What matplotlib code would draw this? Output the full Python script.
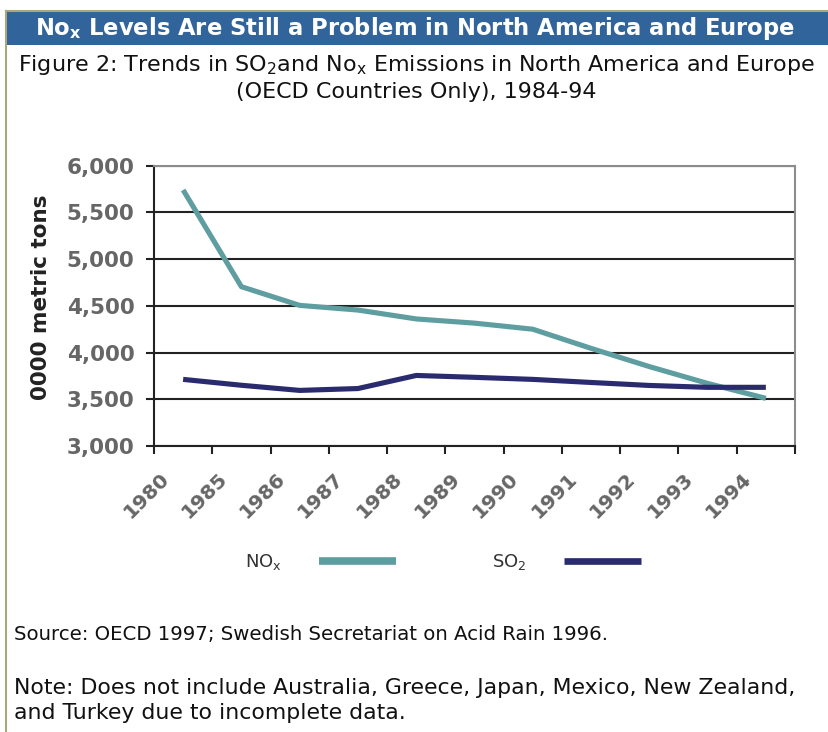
import matplotlib
matplotlib.use('Agg')
import matplotlib.pyplot as plt
import matplotlib.transforms as mtransforms
from matplotlib.lines import Line2D
from matplotlib.patches import Rectangle

plt.rcParams['font.family'] = ['DejaVu Sans']
plt.rcParams['mathtext.default'] = 'regular'

# Data
years = ['1980', '1985', '1986', '1987', '1988', '1989',
         '1990', '1991', '1992', '1993', '1994']
nox = [5740, 4705, 4505, 4455, 4360, 4315, 4250, 4045, 3850, 3670, 3510]
so2 = [3713, 3650, 3595, 3615, 3755, 3735, 3713, 3680, 3648, 3628, 3628]

nox_color = '#5F9EA0'
so2_color = '#2A2A6E'

fig = plt.figure(figsize=(8.29, 7.32), dpi=100)
W, H = 829, 732

# Page frame: blue title bar and thin olive borders
fig.patches.append(Rectangle((7 / W, 1 - 45 / H), 1, 33 / H, transform=fig.transFigure,
                             facecolor='#31649B', edgecolor='none'))
fig.lines.append(Line2D([6 / W, 6 / W], [0, 1 - 11 / H], transform=fig.transFigure,
                        color='#A8A87A', lw=1.5))
fig.lines.append(Line2D([6 / W, 1], [1 - 11 / H, 1 - 11 / H], transform=fig.transFigure,
                        color='#A8A87A', lw=1.5))

# Titles
fig.text(415 / W, 1 - 29 / H, r'No$_x$ Levels Are Still a Problem in North America and Europe',
         color='white', fontsize=16.3, fontweight='bold', ha='center', va='center')
fig.text(416 / W, 1 - 65 / H,
         r'Figure 2: Trends in SO$_2$and No$_x$ Emissions in North America and Europe',
         color='#111111', fontsize=16, ha='center', va='center')
fig.text(416 / W, 1 - 92 / H, '(OECD Countries Only), 1984-94',
         color='#111111', fontsize=16, ha='center', va='center')

# Chart
ax = fig.add_axes([154 / W, 1 - 446 / H, (795 - 154) / W, (446 - 165.7) / H])
x = list(range(len(years)))
ax.plot(x, nox, color=nox_color, lw=3.7, solid_capstyle='butt', label=r'NO$_x$', zorder=3)
ax.plot(x, so2, color=so2_color, lw=3.7, solid_capstyle='butt', label=r'SO$_2$', zorder=3)

ax.set_ylim(3000, 6000)
ax.set_yticks(range(3000, 6001, 500))
ax.set_yticklabels([f'{v:,}' for v in range(3000, 6001, 500)])
ax.set_xlim(-0.5, len(years) - 0.5)
ax.set_xticks([])
ax.set_xticks([i - 0.5 for i in range(len(years) + 1)], minor=True)

# Rotated year labels, shifted left of each category centre like the original
lab_trans = mtransforms.offset_copy(ax.get_xaxis_transform(), fig=fig, x=-37, y=-49, units='dots')
for i, yr in zip(x, years):
    ax.text(i, 0, yr, transform=lab_trans, rotation=45, rotation_mode='anchor',
            ha='center', va='center', fontsize=14.5, fontweight='bold', color='#666666')

ax.grid(axis='y', color='#222222', lw=1.5)
ax.set_axisbelow(True)
for side in ['left', 'bottom']:
    ax.spines[side].set_color('#222222')
    ax.spines[side].set_linewidth(1.5)
for side in ['top', 'right']:
    ax.spines[side].set_color('#8C8C8C')
    ax.spines[side].set_linewidth(1.5)

ax.tick_params(axis='y', length=6, width=1.5, color='#222222', labelcolor='#666666',
               labelsize=15.5, pad=8)
for lab in ax.get_yticklabels():
    lab.set_fontweight('bold')
ax.tick_params(axis='x', which='minor', length=6, width=1.5, color='#222222')

ax.set_ylabel('0000 metric tons', fontsize=15.5, fontweight='bold', color='#222222')
ax.yaxis.set_label_coords(-0.16, 0.53)

leg = ax.legend(loc='center', bbox_to_anchor=(443 / W, 1 - 562 / H),
                bbox_transform=fig.transFigure, ncol=2, frameon=False, markerfirst=False,
                fontsize=13, labelcolor='#333333', handlelength=4.27, handletextpad=2.05,
                columnspacing=5.3)
leg.legend_handles[0].set_linewidth(5.5)
leg.legend_handles[1].set_linewidth(4.8)

# Notes
fig.text(14 / W, 1 - 634 / H, 'Source: OECD 1997; Swedish Secretariat on Acid Rain 1996.',
         fontsize=14.2, color='#111111', ha='left', va='center')
fig.text(14 / W, 1 - 688 / H,
         'Note: Does not include Australia, Greece, Japan, Mexico, New Zealand,',
         fontsize=15.8, color='#111111', ha='left', va='center')
fig.text(14 / W, 1 - 713 / H, 'and Turkey due to incomplete data.',
         fontsize=15.8, color='#111111', ha='left', va='center')

fig.savefig('out.png', dpi=100)
